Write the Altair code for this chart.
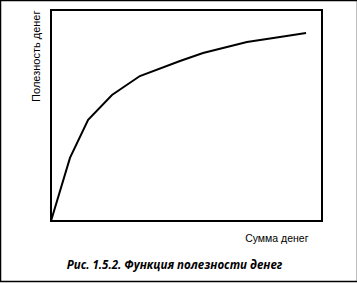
import altair as alt
import pandas as pd

# Curve (money amount vs. utility, arbitrary 0..100 units)
money = [0, 7.0, 13.7, 22.5, 32.8, 47.6, 56.1, 72.3, 84.5, 94.1]
utility = [0, 29.9, 47.9, 59.7, 68.7, 75.8, 79.6, 84.8, 87.2, 89.1]

x_title = "Сумма денег"
y_title = "Полезность денег"
caption = "Рис. 1.5.2. Функция полезности денег"

df = pd.DataFrame({"money": money, "utility": utility})

W, H = 271, 211

line = alt.Chart(df).mark_line(color="black", strokeWidth=2, clip=False).encode(
    x=alt.X("money:Q", scale=alt.Scale(domain=[0, 100], nice=False),
            axis=alt.Axis(title=x_title, domain=False, ticks=False, labels=False, grid=False,
                          titleX=257, titleY=17, titleAlign="right", titleBaseline="middle",
                          titleFontSize=10.5, titleFontWeight="normal", titleFont="Liberation Sans",
                          titleColor="black")),
    y=alt.Y("utility:Q", scale=alt.Scale(domain=[0, 100], nice=False),
            axis=alt.Axis(title=y_title, domain=False, ticks=False, labels=False, grid=False,
                          titleX=-15, titleY=0, titleAngle=270, titleAlign="right",
                          titleBaseline="middle",
                          titleFontSize=11, titleFontWeight="normal", titleFont="Liberation Sans",
                          titleColor="black")),
    order="money:Q",
)

frame = alt.Chart(pd.DataFrame({"k": [0]})).mark_rect(
    fill=None, stroke="black", strokeWidth=1.5, clip=False
).encode(
    x=alt.value(-50.5), x2=alt.value(W + 35.5),
    y=alt.value(-9.5), y2=alt.value(H + 60.5),
)

chart = alt.layer(line, frame).properties(
    width=W, height=H,
    padding={"left": 51, "top": 10, "right": 35, "bottom": 62},
    autosize=alt.AutoSizeParams(type="none"),
    title=alt.TitleParams(caption, orient="bottom", anchor="middle", fontSize=11.5,
                          font="Open Sans", fontStyle="italic", fontWeight="bold",
                          dx=-12, offset=-22, color="black"),
).configure(
    background="white",
    view=alt.ViewConfig(stroke="black", strokeWidth=2),
)

chart.save("out.html", embed_options={"renderer": "svg", "actions": False})
